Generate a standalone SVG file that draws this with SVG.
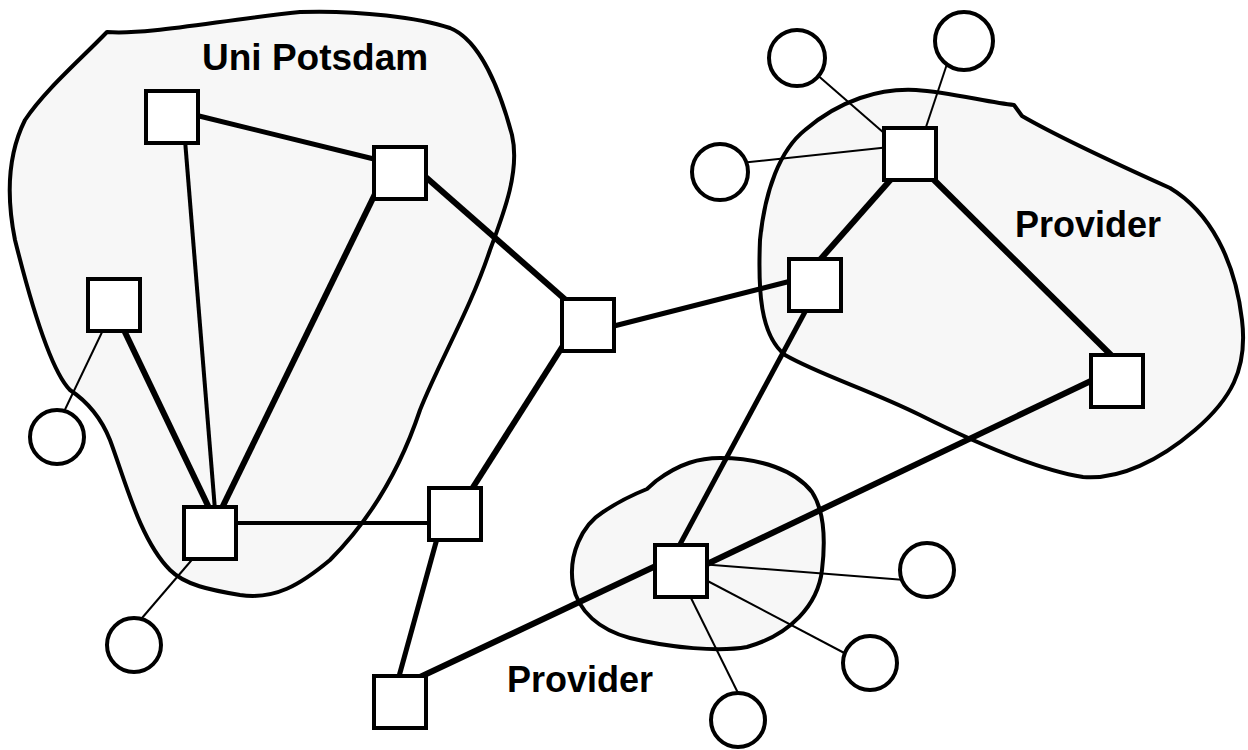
<svg xmlns="http://www.w3.org/2000/svg" width="1248" height="750" viewBox="0 0 1248 750">
<style>
.blob{fill:#f7f7f7;stroke:#000;stroke-width:4;stroke-linejoin:round}
.sq{fill:#fff;stroke:#000;stroke-width:4}
.ci{fill:#fff;stroke:#000;stroke-width:4}
.w2{stroke:#000;stroke-width:2;fill:none}
.w4{stroke:#000;stroke-width:4;fill:none}
.w5{stroke:#000;stroke-width:5;fill:none}
.w6{stroke:#000;stroke-width:6;fill:none}
.lbl{font-family:"Liberation Sans",Arial,sans-serif;font-weight:bold;font-size:36px;fill:#000}
</style>
<rect width="1248" height="750" fill="#fff"/>
<g id="areas">
<path id="uni-potsdam" class="blob" d="M107,32 C150,35 220,20 300,12 C360,10 420,18 450,28 C480,40 500,90 512,135 C520,170 505,210 490,250 C470,310 440,360 420,410 C400,470 370,520 330,560 C300,585 275,600 240,595 C210,590 185,585 170,570 C140,540 125,480 110,440 C100,415 85,400 70,390 C50,370 30,300 15,240 C5,190 10,150 25,120 C45,90 80,60 107,32 Z"/>
<path id="provider-right" class="blob" d="M1022,116 C1060,138 1130,170 1170,188 C1210,212 1235,260 1242,320 C1248,370 1230,400 1195,430 C1160,460 1120,480 1083,477 C1040,470 980,445 920,415 C870,390 820,375 785,355 C760,335 758,290 760,240 C765,190 780,150 805,130 C840,100 880,88 916,90 C950,92 990,103 1014,105 Z"/>
<path id="provider-small" class="blob" d="M656,481 C680,463 700,458 720,458 C760,458 795,470 812,492 C825,512 825,545 822,570 C818,605 790,635 747,647 C720,652 670,648 630,638 C600,630 578,612 573,585 C568,555 582,525 603,512 C618,502 632,495 647,489 Z"/>
</g>
<g id="connectors">
<line class="w4" x1="185" y1="140" x2="215" y2="510"/>
<line class="w5" x1="195" y1="115" x2="378" y2="160"/>
<line class="w6" x1="376" y1="192" x2="220" y2="512"/>
<line class="w6" x1="122" y1="326" x2="211" y2="512"/>
<line class="w2" x1="104" y1="328" x2="60" y2="420"/>
<line class="w2" x1="196" y1="555" x2="136" y2="625"/>
<line class="w4" x1="230" y1="523" x2="435" y2="523"/>
<line class="w5" x1="438" y1="535" x2="398" y2="680"/>
<line class="w6" x1="420" y1="677" x2="660" y2="564"/>
<line class="w6" x1="470" y1="492" x2="566" y2="341"/>
<line class="w6" x1="420" y1="172" x2="568" y2="302"/>
<line class="w5" x1="610" y1="327" x2="795" y2="280"/>
<line class="w6" x1="893" y1="177" x2="818" y2="262"/>
<line class="w6" x1="930" y1="176" x2="1114" y2="358"/>
<line class="w5" x1="806" y1="310" x2="678" y2="548"/>
<line class="w6" x1="705" y1="565" x2="1095" y2="379"/>
<line class="w2" x1="884" y1="133" x2="815" y2="73"/>
<line class="w2" x1="925" y1="130" x2="950" y2="55"/>
<line class="w2" x1="890" y1="147" x2="740" y2="163"/>
<line class="w2" x1="700" y1="564" x2="905" y2="580"/>
<line class="w2" x1="700" y1="577" x2="850" y2="656"/>
<line class="w2" x1="688" y1="592" x2="740" y2="697"/>
</g>
<g id="router-a"><rect class="sq" x="146" y="91" width="52" height="52"/></g>
<g id="router-b"><rect class="sq" x="374" y="147" width="52" height="52"/></g>
<g id="router-c"><rect class="sq" x="88" y="279" width="52" height="52"/></g>
<g id="router-d"><rect class="sq" x="184" y="507" width="52" height="52"/></g>
<g id="router-e"><rect class="sq" x="429" y="488" width="52" height="52"/></g>
<g id="router-f"><rect class="sq" x="374" y="676" width="52" height="52"/></g>
<g id="router-g"><rect class="sq" x="562" y="299" width="52" height="52"/></g>
<g id="router-h"><rect class="sq" x="789" y="259" width="52" height="52"/></g>
<g id="router-i"><rect class="sq" x="884" y="128" width="52" height="52"/></g>
<g id="router-j"><rect class="sq" x="1091" y="355" width="52" height="52"/></g>
<g id="router-k"><rect class="sq" x="655" y="545" width="52" height="52"/></g>
<g id="host-1"><circle class="ci" cx="57" cy="437" r="27"/></g>
<g id="host-2"><circle class="ci" cx="134" cy="645" r="27"/></g>
<g id="host-3"><circle class="ci" cx="797" cy="58" r="28"/></g>
<g id="host-4"><circle class="ci" cx="964" cy="41" r="29"/></g>
<g id="host-5"><circle class="ci" cx="720" cy="172" r="28"/></g>
<g id="host-6"><circle class="ci" cx="927" cy="570" r="27"/></g>
<g id="host-7"><circle class="ci" cx="870" cy="663" r="27"/></g>
<g id="host-8"><circle class="ci" cx="738" cy="720" r="27"/></g>
<g id="labels">
<text class="lbl" x="202" y="70" style="font-size:37px">Uni Potsdam</text>
<text class="lbl" x="1015" y="237">Provider</text>
<text class="lbl" x="507" y="692">Provider</text>
</g>
</svg>
